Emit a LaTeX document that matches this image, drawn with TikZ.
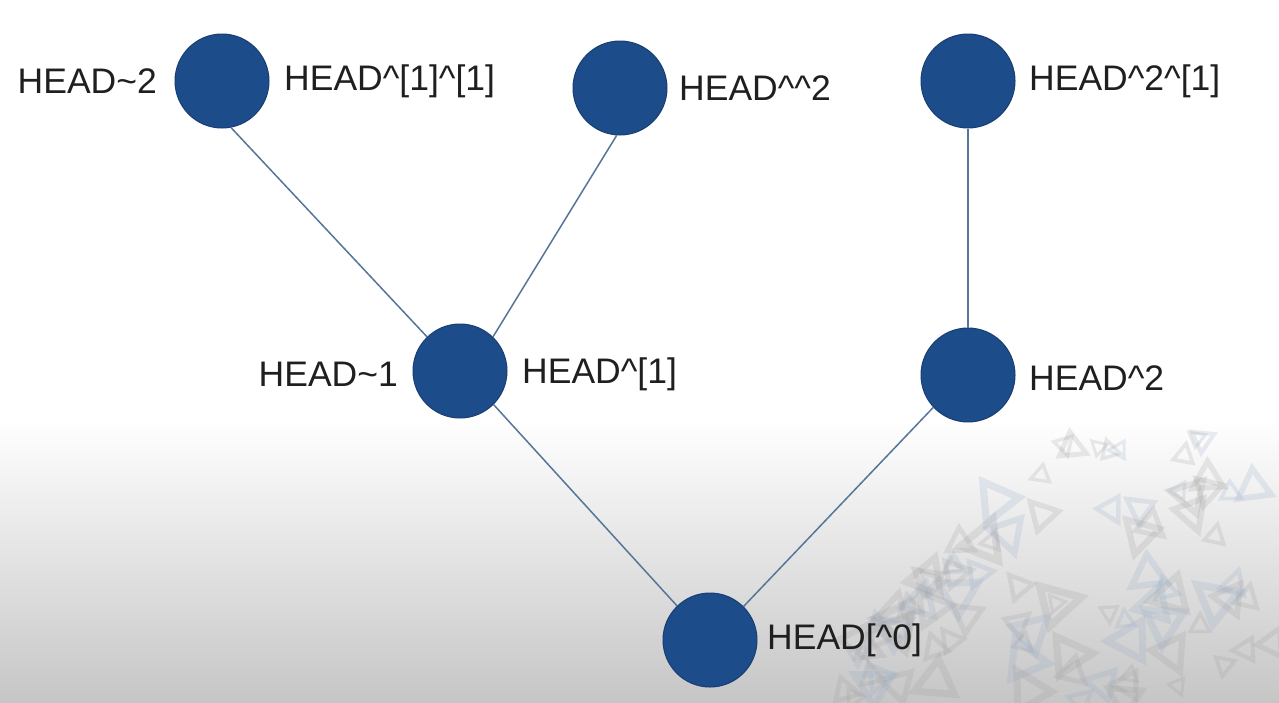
\documentclass[tikz,border=0pt]{standalone}
\usepackage{fontspec}
\setmainfont{Liberation Sans}
\definecolor{nodeblue}{HTML}{1D4C8A}
\definecolor{nodeedge}{HTML}{173E72}
\definecolor{linkc}{HTML}{557698}
\definecolor{bgbot}{HTML}{C6C6C6}
\definecolor{trigray}{HTML}{9A9A9A}
\definecolor{triblue}{HTML}{8FA8C8}
\begin{document}
\begin{tikzpicture}[x=1pt,y=-1pt,
  commit/.style={circle,fill=nodeblue,draw=nodeedge,line width=1pt,minimum size=94pt,inner sep=0pt},
  lbl/.style={font=\fontsize{35.5}{40}\selectfont,text=black!88,inner sep=0pt},
  link/.style={draw=linkc,line width=1.5pt}]
\useasboundingbox (0,0) rectangle (1279,702);
\fill[white] (0,0) rectangle (1279,420);
\shade[top color=white,bottom color=bgbot] (0,419) rectangle (1279,702);
% faint background triangle texture
\pgfmathsetseed{7}
\foreach \i in {1,...,90}{
  \pgfmathsetmacro{\tx}{845+rnd*434}
  \pgfmathsetmacro{\ty}{702-rnd*min((\tx-790)*1.0,265)}
  \pgfmathsetmacro{\ts}{14+rnd*24}
  \pgfmathsetmacro{\tr}{rnd*360}
  \pgfmathtruncatemacro{\tc}{mod(\i,3)}
  \ifnum\tc=0 \def\tcol{triblue}\else\def\tcol{trigray}\fi
  \draw[\tcol,opacity=0.2,line width=0.2*\ts,line join=miter,rotate around={\tr:(\tx,\ty)}]
    (\tx,\ty-0.6*\ts) -- (\tx+0.55*\ts,\ty+0.4*\ts) -- (\tx-0.55*\ts,\ty+0.4*\ts) -- cycle;
}
\node[commit] (A) at (222,81) {};
\node[commit] (B) at (620,88) {};
\node[commit] (C) at (968,81) {};
\node[commit] (D) at (460,371) {};
\node[commit] (E) at (968,375) {};
\node[commit] (F) at (710,640) {};
\draw[link] (A.-79) -- (D.134);
\draw[link] (B.-94) -- (D.46);
\draw[link] (C.south) -- (E.north);
\draw[link] (D.-45) -- (F.134);
\draw[link] (E.-137) -- (F.45);
\node[lbl,anchor=east] (tA1) at (157,81) {HEAD\textasciitilde 2};
\node[lbl,anchor=west] (tA2) at (284,81) {HEAD\textasciicircum[1]\textasciicircum[1]};
\node[lbl,anchor=west] (tB) at (679,88) {HEAD\textasciicircum\textasciicircum 2};
\node[lbl,anchor=west] (tC) at (1029,81) {HEAD\textasciicircum 2\textasciicircum[1]};
\node[lbl,anchor=east] (tD1) at (398,374) {HEAD\textasciitilde 1};
\node[lbl,anchor=west] (tD2) at (522,374) {HEAD\textasciicircum[1]};
\node[lbl,anchor=west] (tE) at (1029,378) {HEAD\textasciicircum 2};
\node[lbl,anchor=west] (tF) at (767,640) {HEAD[\textasciicircum 0]};
\end{tikzpicture}
\end{document}
